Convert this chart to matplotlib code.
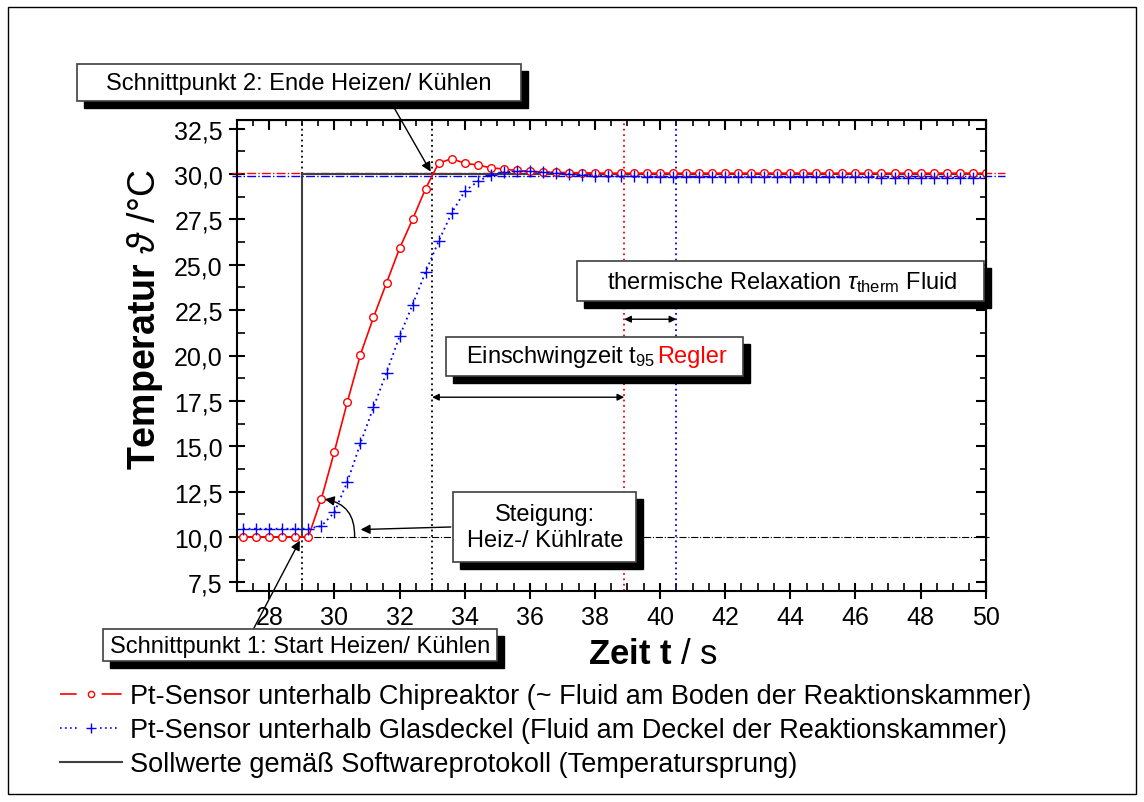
import matplotlib.pyplot as plt
from matplotlib.patches import Rectangle
from matplotlib.lines import Line2D
from matplotlib.ticker import MultipleLocator

plt.rcParams['font.family'] = ['Liberation Sans', 'DejaVu Sans']
plt.rcParams['mathtext.fontset'] = 'custom'
plt.rcParams['mathtext.rm'] = 'Liberation Sans'
plt.rcParams['mathtext.it'] = 'Liberation Sans:italic'
plt.rcParams['mathtext.bf'] = 'Liberation Sans:bold'
plt.rcParams['mathtext.fallback'] = 'stixsans'

W, H = 1144, 803

# Messzeitpunkte (s)
time_s = [27.2, 27.6, 28.0, 28.4, 28.8, 29.2, 29.6, 30.0, 30.4, 30.8,
          31.2, 31.6, 32.0, 32.4, 32.8, 33.2, 33.6, 34.0, 34.4, 34.8,
          35.2, 35.6, 36.0, 36.4, 36.8, 37.2, 37.6, 38.0, 38.4, 38.8,
          39.2, 39.6, 40.0, 40.4, 40.8, 41.2, 41.6, 42.0, 42.4, 42.8,
          43.2, 43.6, 44.0, 44.4, 44.8, 45.2, 45.6, 46.0, 46.4, 46.8,
          47.2, 47.6, 48.0, 48.4, 48.8, 49.2, 49.6, 50.0]

# Pt-Sensor unterhalb Chipreaktor
temp_chip = [10.0, 10.0, 10.0, 10.0, 10.0, 10.0, 12.1, 14.7, 17.45, 20.05,
             22.1, 24.0, 25.9, 27.5, 29.2, 30.6, 30.85, 30.6, 30.5, 30.35,
             30.28, 30.2, 30.15, 30.12, 30.1, 30.08, 30.07, 30.06, 30.05, 30.05,
             30.05, 30.05, 30.05, 30.05, 30.05, 30.05, 30.05, 30.05, 30.05, 30.05,
             30.05, 30.05, 30.05, 30.05, 30.05, 30.05, 30.05, 30.05, 30.05, 30.05,
             30.05, 30.05, 30.05, 30.05, 30.05, 30.05, 30.05, 30.05]

# Pt-Sensor unterhalb Glasdeckel
temp_lid = [10.45, 10.45, 10.45, 10.45, 10.45, 10.45, 10.6, 11.35, 13.05, 15.15,
            17.15, 19.05, 21.05, 22.8, 24.6, 26.3, 27.85, 29.05, 29.6, 29.95,
            30.1, 30.15, 30.15, 30.1, 30.05, 30.0, 29.95, 29.92, 29.9, 29.88,
            29.87, 29.86, 29.86, 29.85, 29.85, 29.85, 29.85, 29.84, 29.84, 29.84,
            29.84, 29.83, 29.83, 29.83, 29.83, 29.82, 29.82, 29.82, 29.82, 29.81,
            29.81, 29.81, 29.81, 29.8, 29.8, 29.8, 29.8, 29.8]

# Sollwerte (Temperatursprung)
set_time = [27.0, 29.0, 29.0, 50.0]
set_temp = [10.0, 10.0, 30.0, 30.0]

t_start = 29.0
t_end = 33.0
t95_chip = 38.9
t95_lid = 40.5
final_chip = 30.05
final_lid = 29.87
start_temp = 10.0
rate_arrow_y = 10.4
t95_arrow_y = 17.7
tau_arrow_y = 22.0

fig = plt.figure(figsize=(W / 100, H / 100), dpi=100)
ax = fig.add_axes([236.7 / W, 1 - 592.3 / H, (985.7 - 236.7) / W, (592.3 - 120.7) / H])

dot = (0, (1, 2))
ax.plot([26.85, 50.6], [final_chip] * 2, color='red', ls='-.', lw=1, clip_on=False)
ax.plot([26.85, 50.6], [final_lid] * 2, color='blue', ls='-.', lw=1, clip_on=False)
ax.plot([t_start, 50.1], [start_temp] * 2, color='k', ls='-.', lw=0.8, clip_on=False)
ax.axvline(t_start, color='k', ls=dot, lw=1.3)
ax.axvline(t_end, color='k', ls=dot, lw=1.3)
ax.axvline(t95_chip, color='red', ls=dot, lw=1.3)
ax.axvline(t95_lid, color='blue', ls=dot, lw=1.3)

ax.plot(set_time, set_temp, color='#404040', lw=1.5)
ax.plot(time_s, temp_chip, color='red', lw=1.2, marker='o', ms=5.5,
        mfc='white', mec='red', mew=1)
ax.plot(time_s, temp_lid, color='blue', lw=1.3, ls=dot, marker='+', ms=8, mew=1)

ax.set_xlim(27, 50)
ax.set_ylim(7, 33)
xt = list(range(28, 51, 2))
yt = [7.5, 10.0, 12.5, 15.0, 17.5, 20.0, 22.5, 25.0, 27.5, 30.0, 32.5]
ax.set_xticks(xt)
ax.set_xticklabels([str(v) for v in xt])
ax.set_yticks(yt)
ax.set_yticklabels([f"{v:.1f}".replace('.', ',') for v in yt])
ax.xaxis.set_minor_locator(MultipleLocator(0.5))
ax.yaxis.set_minor_locator(MultipleLocator(1.25))
ax.tick_params(which='major', direction='inout', length=12, width=1.5, labelsize=18, pad=4)
ax.tick_params(which='minor', direction='in', length=6, width=1.2)
for s in ax.spines.values():
    s.set_linewidth(1.5)

secx = ax.secondary_xaxis('top')
secx.set_xticks(xt)
secx.xaxis.set_minor_locator(MultipleLocator(0.5))
secx.tick_params(which='major', direction='in', length=7, width=1.5, labeltop=False)
secx.tick_params(which='minor', direction='in', length=4, width=1.2)
secy = ax.secondary_yaxis('right')
secy.set_yticks(yt)
secy.yaxis.set_minor_locator(MultipleLocator(1.25))
secy.tick_params(which='major', direction='in', length=7, width=1.5, labelright=False)
secy.tick_params(which='minor', direction='in', length=4, width=1.2)

fig.text(145 / W, 1 - 320 / H, r"$\mathbf{Temperatur}$ $\vartheta$ /°C", rotation=90,
         ha='center', va='center', fontsize=27)
fig.text(653 / W, 1 - 655 / H, r"$\mathbf{Zeit\ t}$ / s", ha='center', va='center', fontsize=25)

# Pfeile
arrow = dict(arrowstyle='-|>', color='k', lw=1, mutation_scale=14)
ax.annotate('', xy=(t_end, 30.0), xytext=(31.74, 33.95), arrowprops=arrow, annotation_clip=False)
ax.annotate('', xy=(t_start, start_temp), xytext=(27.45, 4.7),
            arrowprops=dict(arrow, shrinkB=3), annotation_clip=False)
ax.annotate('', xy=(30.72, rate_arrow_y), xytext=(33.66, 10.55), arrowprops=arrow)
ax.annotate('', xy=(29.62, 12.1), xytext=(30.62, start_temp),
            arrowprops=dict(arrow, connectionstyle='arc3,rad=0.45', shrinkA=0, shrinkB=2))
ax.annotate('', xy=(t_end, t95_arrow_y), xytext=(t95_chip, t95_arrow_y),
            arrowprops=dict(arrowstyle='<|-|>', color='k', lw=1, mutation_scale=10, shrinkA=0, shrinkB=0))
ax.annotate('', xy=(t95_chip, tau_arrow_y), xytext=(t95_lid, tau_arrow_y),
            arrowprops=dict(arrowstyle='<|-|>', color='k', lw=1, mutation_scale=10, shrinkA=0, shrinkB=0))


def box(x0, y0, x1, y1, sh=7):
    fig.patches.append(Rectangle(((x0 + sh) / W, 1 - (y1 + sh) / H), (x1 - x0) / W, (y1 - y0) / H,
                                 transform=fig.transFigure, facecolor='k', edgecolor='k', zorder=5))
    fig.patches.append(Rectangle((x0 / W, 1 - y1 / H), (x1 - x0) / W, (y1 - y0) / H,
                                 transform=fig.transFigure, facecolor='white', edgecolor='#404040',
                                 lw=1.2, zorder=6))


def label(x, y, s, **kw):
    fig.text(x / W, 1 - y / H, s, fontsize=17, zorder=7, **kw)


box(77, 65, 521, 102)
label(299, 84, "Schnittpunkt 2: Ende Heizen/ Kühlen", ha='center', va='center')
box(577, 262, 984, 302)
label(782, 283, r"thermische Relaxation $\tau_{\mathrm{therm}}$ Fluid", ha='center', va='center')
box(446, 338, 743, 377)
label(466, 357, r"Einschwingzeit t$_{95}$", ha='left', va='center')
label(657, 357, "Regler", ha='left', va='center', color='red')
box(453, 493, 636, 563)
label(545, 528, "Steigung:\nHeiz-/ Kühlrate", ha='center', va='center', linespacing=1.25)
box(103, 630, 497, 662)
label(300, 647, "Schnittpunkt 1: Start Heizen/ Kühlen", ha='center', va='center')

# Legende
handles = [Line2D([], [], color='red', lw=1.2, ls=(0, (10, 15, 12, 100)), marker='o', ms=4.5,
                  mfc='white', mec='red'),
           Line2D([], [], color='blue', lw=1.2, ls=(0, (1, 2, 1, 2, 1, 2, 1, 14, 1, 2, 1, 2, 1, 2, 1, 100)),
                  marker='+', ms=7),
           Line2D([], [], color='#404040', lw=1.5)]
labels = ["Pt-Sensor unterhalb Chipreaktor (~ Fluid am Boden der Reaktionskammer)",
          "Pt-Sensor unterhalb Glasdeckel (Fluid am Deckel der Reaktionskammer)",
          "Sollwerte gemäß Softwareprotokoll (Temperatursprung)"]
fig.legend(handles, labels, loc='upper left', bbox_to_anchor=(60 / W, 1 - 684 / H),
           frameon=False, fontsize=19.5, handlelength=2.3, handletextpad=0.27,
           labelspacing=0.3, borderpad=0, borderaxespad=0)

fig.patches.append(Rectangle((8 / W, 8 / H), 1128 / W, 787 / H, transform=fig.transFigure,
                             facecolor='none', edgecolor='k', lw=1))

fig.savefig('out.png', dpi=100)
